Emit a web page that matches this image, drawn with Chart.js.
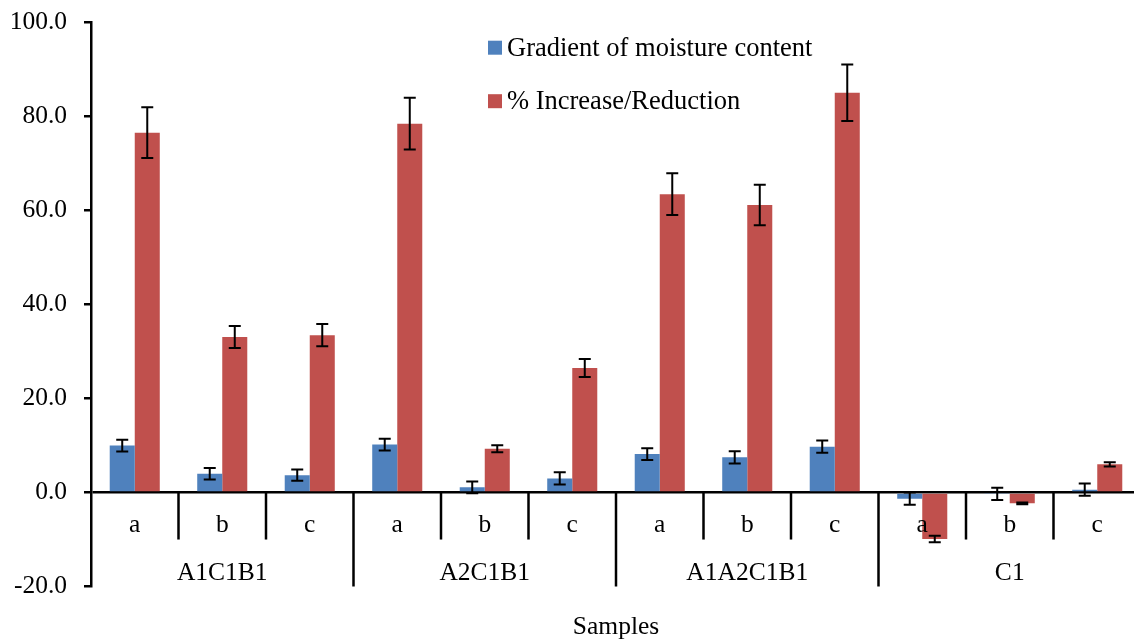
<!DOCTYPE html>
<html>
<head>
<meta charset="utf-8">
<script src="https://cdn.jsdelivr.net/npm/chart.js@4"></script>
<style>
  html, body { margin: 0; padding: 0; background: #fff; overflow: hidden; }
  #wrap { width: 1141px; height: 642px; }
</style>
</head>
<body>
<div id="wrap"><canvas id="c" width="1141" height="642"></canvas></div>
<script>
const categories = ['a','b','c','a','b','c','a','b','c','a','b','c'];
const groups = ['A1C1B1','A2C1B1','A1A2C1B1','C1'];
const groupSize = 3;
const seriesNames = ['Gradient of moisture content', '% Increase/Reduction'];
const gradient    = [10.0, 4.0, 3.7, 10.2, 1.1, 3.0, 8.2, 7.5, 9.75, -1.3, -0.3, 0.6];
const gradientErr = [1.25, 1.2, 1.2, 1.25, 1.25, 1.3, 1.25, 1.3, 1.3, 1.3, 1.3, 1.3];
const increase    = [76.6, 33.1, 33.5, 78.5, 9.3, 26.5, 63.5, 61.2, 85.1, -9.9, -2.3, 6.0];
const increaseErr = [5.4, 2.35, 2.35, 5.5, 0.75, 1.9, 4.45, 4.3, 6.0, 0.7, 0.2, 0.45];
const yTicks = [-20, 0, 20, 40, 60, 80, 100];
const xTitle = 'Samples';

const FONT = 'Liberation Serif, Times New Roman, serif';
const colors = ['#4F81BD', '#C0504D'];
const errs = [gradientErr, increaseErr];

const errorBars = {
  id: 'errorBars',
  afterDatasetsDraw(chart) {
    const ctx = chart.ctx, y = chart.scales.y;
    ctx.save();
    ctx.strokeStyle = '#000';
    ctx.lineWidth = 2;
    chart.data.datasets.forEach((ds, i) => {
      const meta = chart.getDatasetMeta(i);
      meta.data.forEach((el, j) => {
        const v = ds.data[j], e = errs[i][j];
        const t = y.getPixelForValue(v + e), b = y.getPixelForValue(v - e);
        const x = el.x, w = 6;
        ctx.beginPath();
        ctx.moveTo(x, t); ctx.lineTo(x, b);
        ctx.moveTo(x - w, t); ctx.lineTo(x + w, t);
        ctx.moveTo(x - w, b); ctx.lineTo(x + w, b);
        ctx.stroke();
      });
    });
    ctx.restore();
  }
};

const axisDecor = {
  id: 'axisDecor',
  afterDraw(chart) {
    const ctx = chart.ctx, xs = chart.scales.x, ys = chart.scales.y, ca = chart.chartArea;
    const n = categories.length;
    const cw = (xs.getPixelForValue(n - 1) - xs.getPixelForValue(0)) / (n - 1);
    const y0 = ys.getPixelForValue(0);
    ctx.save();
    ctx.fillStyle = '#000';
    ctx.strokeStyle = '#000';
    ctx.lineWidth = 2.5;
    for (let j = 1; j < n; j++) {
      const bx = xs.getPixelForValue(j) - cw / 2;
      const long = j % groupSize === 0;
      ctx.beginPath();
      ctx.moveTo(bx, y0);
      ctx.lineTo(bx, long ? ca.bottom : y0 + 47);
      ctx.stroke();
    }
    ctx.font = '25.5px ' + FONT;
    ctx.textAlign = 'center';
    ctx.textBaseline = 'middle';
    categories.forEach((c, j) => {
      ctx.fillText(c, xs.getPixelForValue(j), y0 + 33);
    });
    groups.forEach((g, k) => {
      const s = xs.getPixelForValue(k * groupSize), e = xs.getPixelForValue(k * groupSize + groupSize - 1);
      ctx.fillText(g, (s + e) / 2, y0 + 81);
    });
    ctx.fillText(xTitle, (ca.left + ca.right) / 2, ca.bottom + 41);
    ctx.font = '26.5px ' + FONT;
    ctx.textAlign = 'left';
    const lx = ca.left + 397;
    const ly = [ca.top + 25, ca.top + 78.5];
    seriesNames.forEach((nm, i) => {
      ctx.fillStyle = colors[i];
      ctx.fillRect(lx, ly[i] - 7, 14, 14);
      ctx.fillStyle = '#000';
      ctx.fillText(nm, lx + 19, ly[i] + 1);
    });
    ctx.restore();
  }
};

new Chart(document.getElementById('c'), {
  type: 'bar',
  data: {
    labels: categories,
    datasets: [
      { label: seriesNames[0], data: gradient, backgroundColor: colors[0], categoryPercentage: 0.572, barPercentage: 1.0 },
      { label: seriesNames[1], data: increase, backgroundColor: colors[1], categoryPercentage: 0.572, barPercentage: 1.0 }
    ]
  },
  options: {
    responsive: false,
    animation: false,
    layout: { padding: { top: 22.7, bottom: 55.5, left: 0, right: 0 } },
    plugins: { legend: { display: false }, tooltip: { enabled: false } },
    scales: {
      x: { display: false, offset: true },
      y: {
        min: -20, max: 100,
        z: 1,
        afterFit(s) { s.width = 91; s.paddingTop = 0; s.paddingBottom = 0; },
        afterBuildTicks(s) { s.ticks = yTicks.map(v => ({ value: v })); },
        ticks: {
          color: '#000',
          font: { family: FONT, size: 25.5 },
          padding: 17,
          callback: v => Number(v).toFixed(1)
        },
        grid: {
          drawOnChartArea: true,
          drawTicks: true,
          tickLength: 7,
          lineWidth: 2.5,
          tickColor: '#000',
          color: c => (c.tick && c.tick.value === 0) ? '#000' : 'rgba(0,0,0,0)'
        },
        border: { display: true, color: '#000', width: 2.5 }
      }
    }
  },
  plugins: [errorBars, axisDecor]
});
</script>
</body>
</html>
